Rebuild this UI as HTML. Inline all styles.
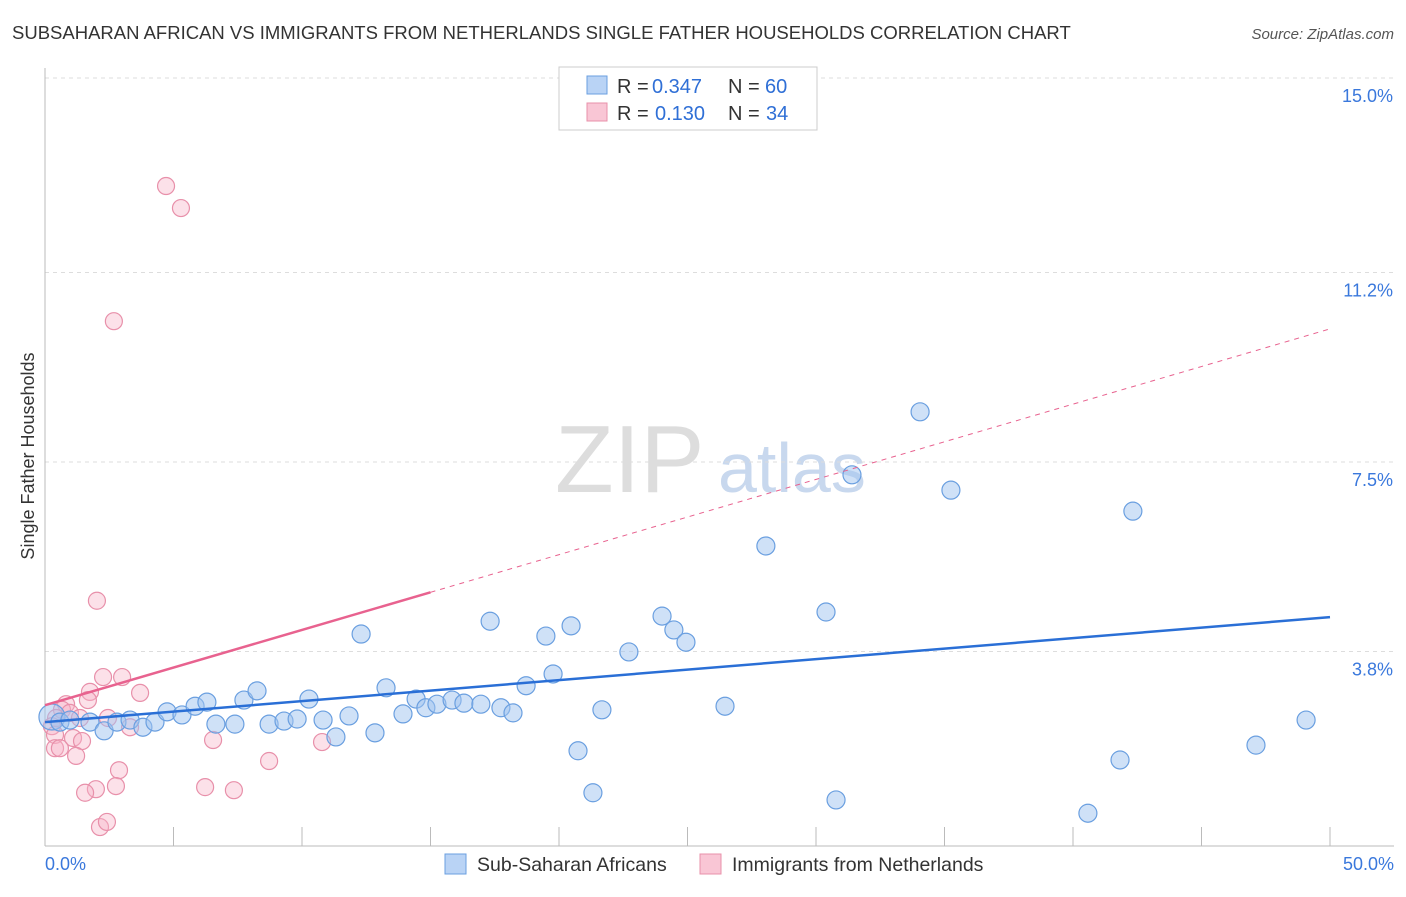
<!DOCTYPE html>
<html><head><meta charset="utf-8"><style>
body{margin:0;background:#fff;font-family:"Liberation Sans",sans-serif;}
svg text{font-family:"Liberation Sans",sans-serif;}
</style></head><body>
<svg id="c" width="1406" height="892">
<text x="12" y="39" font-size="18.5" fill="#333">SUBSAHARAN AFRICAN VS IMMIGRANTS FROM NETHERLANDS SINGLE FATHER HOUSEHOLDS CORRELATION CHART</text>
<text x="1394" y="39" font-size="15" fill="#555" font-style="italic" text-anchor="end">Source: ZipAtlas.com</text>
<text x="34" y="456" font-size="18" fill="#333" text-anchor="middle" transform="rotate(-90 34 456)">Single Father Households</text>
<text x="555" y="492" font-size="96" fill="#ddd" font-family="Liberation Serif">ZIP</text>
<text x="718" y="492" font-size="70" fill="#c8d8ee">atlas</text>
<g id="grid"></g><g id="marks"></g><g id="lines"></g>
<g>
<rect x="559" y="67" width="258" height="63" fill="#fff" stroke="#ccc"/>
<rect x="587" y="76" width="20" height="18" fill="#b9d3f5" stroke="#6a9fe0"/>
<rect x="587" y="103" width="20" height="18" fill="#f9c6d5" stroke="#e890aa"/>
<text x="617" y="93" font-size="20" fill="#333">R =</text>
<text x="652" y="93" font-size="20" fill="#2f6fd6">0.347</text>
<text x="728" y="93" font-size="20" fill="#333">N =</text>
<text x="765" y="93" font-size="20" fill="#2f6fd6">60</text>
<text x="617" y="120" font-size="20" fill="#333">R =</text>
<text x="655" y="120" font-size="20" fill="#2f6fd6">0.130</text>
<text x="728" y="120" font-size="20" fill="#333">N =</text>
<text x="766" y="120" font-size="20" fill="#2f6fd6">34</text>
</g>
<g>
<rect x="445" y="854" width="21" height="20" fill="#b9d3f5" stroke="#6a9fe0"/>
<text x="477" y="871" font-size="19.5" fill="#333">Sub-Saharan Africans</text>
<rect x="700" y="854" width="21" height="20" fill="#f9c6d5" stroke="#e890aa"/>
<text x="732" y="871" font-size="19.5" fill="#333">Immigrants from Netherlands</text>
</g>
</svg>
<script>
const yTicks=[3.8,7.5,11.2,15.0];
const yTickLabels=["3.8%","7.5%","11.2%","15.0%"];
const xTickLabels=["0.0%","50.0%"];
const blueX=[.27,.58,.97,1.75,2.30,2.80,3.31,3.81,4.28,4.75,5.33,5.84,6.30,6.65,7.39,7.74,8.25,8.72,9.30,9.81,10.27,10.82,11.32,11.83,12.30,12.84,13.27,13.93,14.44,14.82,15.25,15.84,16.30,16.96,17.32,17.74,18.21,18.72,19.49,19.77,20.47,20.74,21.32,21.67,22.72,24.01,24.47,24.94,26.46,28.05,30.39,30.78,31.40,34.05,35.25,40.58,41.83,42.33,47.12,49.07];
const blueY=[2.52,2.42,2.46,2.42,2.25,2.42,2.46,2.32,2.42,2.62,2.56,2.73,2.81,2.38,2.38,2.85,3.03,2.38,2.44,2.48,2.87,2.46,2.13,2.54,4.14,2.21,3.09,2.58,2.87,2.70,2.77,2.85,2.79,2.77,4.39,2.70,2.60,3.13,4.10,3.36,4.30,1.86,1.04,2.66,3.79,4.49,4.22,3.98,2.73,5.86,4.57,0.90,7.25,8.48,6.95,0.64,1.68,6.54,1.97,2.46];
const pinkX=[4.71,5.29,2.68,2.02,2.26,3.00,1.75,3.70,.82,1.67,.66,.43,.97,2.45,1.36,3.31,.27,.39,1.09,1.44,.39,.58,1.21,6.54,8.72,10.78,2.88,1.98,1.56,2.76,6.23,7.35,2.14,2.41];
const pinkY=[12.89,12.46,10.25,4.79,3.30,3.30,3.01,2.99,2.77,2.85,2.66,2.50,2.60,2.50,2.50,2.32,2.34,2.17,2.11,2.05,1.91,1.91,1.76,2.07,1.66,2.03,1.48,1.11,1.04,1.17,1.15,1.09,0.37,0.47];
const blueTrend=[2.42,4.47];
const pinkTrend=[2.75,10.1];
const NS="http://www.w3.org/2000/svg";
const X=v=>45+v*25.7, Y=v=>846-v*51.2;
function mk(t,a,p){const e=document.createElementNS(NS,t);for(const k in a)e.setAttribute(k,a[k]);p.appendChild(e);return e;}
const grid=document.getElementById('grid'),marks=document.getElementById('marks'),lines=document.getElementById('lines');
yTicks.forEach((v,i)=>{
 const l=mk('line',{x1:45,x2:1394,y1:Y(v),y2:Y(v),stroke:'#ddd','stroke-dasharray':'4,4'},grid);
 
 
 const t=mk('text',{x:1393,y:Y(v)+24,'font-size':18,fill:'#3a78dc','text-anchor':'end'},grid);
 t.textContent=yTickLabels[i];
 
 
});
const ax=mk('line',{x1:45,x2:45,y1:68,y2:846,stroke:'#bbb'},grid);


const bx=mk('line',{x1:45,x2:1394,y1:846,y2:846,stroke:'#bbb'},grid);


for(let v=5;v<=50;v+=5){const l=mk('line',{x1:X(v),x2:X(v),y1:827,y2:846,stroke:'#bbb'},grid);
 
 }
[[0,'start',45],[50,'end',1394]].forEach((a,i)=>{const t=mk('text',{x:a[2],y:870,'font-size':18,fill:'#3a78dc','text-anchor':a[1]},grid);t.textContent=xTickLabels[i];
 
 });
pinkX.forEach((x,i)=>{const c=mk('circle',{cx:X(x),cy:Y(pinkY[i]),r:8.5,fill:'rgba(248,180,200,0.4)',stroke:'#e890aa','stroke-width':1.2},marks);
 
 });
blueX.forEach((x,i)=>{const c=mk('circle',{cx:X(x),cy:Y(blueY[i]),r:i==0?13:9,fill:'rgba(160,195,240,0.5)',stroke:'#6a9fe0','stroke-width':1.2},marks);
 
 });
const bl=mk('line',{x1:X(0),y1:Y(blueTrend[0]),x2:X(50),y2:Y(blueTrend[1]),stroke:'#2a6fd6','stroke-width':2.5},lines);


const pv=x=>pinkTrend[0]+(pinkTrend[1]-pinkTrend[0])*x/50;
const ps=mk('line',{x1:X(0),y1:Y(pv(0)),x2:X(15),y2:Y(pv(15)),stroke:'#e8628f','stroke-width':2.5},lines);


const pd=mk('line',{x1:X(15),y1:Y(pv(15)),x2:X(50),y2:Y(pv(50)),stroke:'#e8628f','stroke-width':1,'stroke-dasharray':'5,5'},lines);


</script>
</body></html>
